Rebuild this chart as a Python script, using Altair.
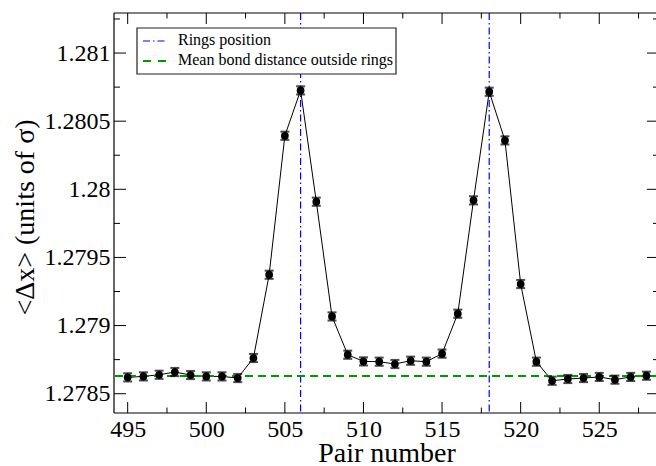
import altair as alt
import pandas as pd

# Mean bond length per pair along the chain
pairs = list(range(495, 529))
mean_dx = [1.27862, 1.278627, 1.278639, 1.278659, 1.278637, 1.278627, 1.278627, 1.278615,
           1.278762, 1.279373, 1.280393, 1.280726, 1.279909, 1.279067, 1.278786, 1.278737,
           1.278735, 1.278718, 1.278742, 1.278735, 1.278794, 1.279087, 1.279919, 1.280716,
           1.280359, 1.279305, 1.278735, 1.278595, 1.278608, 1.278615, 1.278623, 1.278603,
           1.278623, 1.278632]
err_dx = [0.00003, 0.00003, 0.00003, 0.00003, 0.00003, 0.00003, 0.00003, 0.00003,
          0.00003, 0.00003, 0.00003, 0.00003, 0.00003, 0.00003, 0.00003, 0.00003,
          0.00003, 0.00003, 0.00003, 0.00003, 0.00003, 0.00003, 0.00003, 0.00003,
          0.00003, 0.00003, 0.00003, 0.00003, 0.00003, 0.00003, 0.00003, 0.00003,
          0.00003, 0.00003]

ring_positions = [506, 518]
mean_outside = [1.27863]

x_major = [495, 500, 505, 510, 515, 520, 525]
x_minor = [497.5, 502.5, 507.5, 512.5, 517.5, 522.5, 527.5]
y_major = [1.2785, 1.279, 1.2795, 1.28, 1.2805, 1.281]
y_minor = [1.27875, 1.27925, 1.27975, 1.28025, 1.28075, 1.28125]

legend_labels = ["Rings position", "Mean bond distance outside rings"]

X_DOMAIN = [494.13, 528.61]
Y_DOMAIN = [1.2783584, 1.2812939]
W, H = 542, 400
FONT = "Liberation Serif"
BLUE = "#0000ff"
GREEN = "#009a00"

df = pd.DataFrame({
    "pair": pairs,
    "dx": mean_dx,
    "lo": [v - e for v, e in zip(mean_dx, err_dx)],
    "hi": [v + e for v, e in zip(mean_dx, err_dx)],
})

xs = alt.Scale(domain=X_DOMAIN, nice=False, zero=False)
ys = alt.Scale(domain=Y_DOMAIN, nice=False, zero=False)

axis_style = dict(
    grid=False, ticks=False, domain=False,
    labelFont=FONT, labelFontSize=24, labelColor="black", labelPadding=4,
    titleFont=FONT, titleFontSize=28, titleFontWeight="normal", titleColor="black",
    labelFlush=False, labelOverlap=False,
)
x_axis = alt.Axis(values=x_major, title="Pair number", format="d",
                  titleX=272.5, titleY=48, titleBaseline="alphabetic", titleAlign="center",
                  **axis_style)
y_axis = alt.Axis(values=y_major, title="<Δx> (units of σ)", format="~g",
                  titleX=-81, titleY=204, titleAngle=270, titleBaseline="alphabetic",
                  titleAlign="center", **axis_style)

base = alt.Chart(df)

line = base.mark_line(color="black", strokeWidth=1).encode(
    x=alt.X("pair:Q", scale=xs, axis=x_axis),
    y=alt.Y("dx:Q", scale=ys, axis=y_axis),
)
bars = base.mark_rule(color="black", strokeWidth=1.5).encode(
    x="pair:Q", y="lo:Q", y2="hi:Q")
cap_lo = base.mark_tick(color="black", orient="horizontal", size=9, thickness=2).encode(
    x="pair:Q", y="lo:Q")
cap_hi = base.mark_tick(color="black", orient="horizontal", size=9, thickness=2).encode(
    x="pair:Q", y="hi:Q")
points = base.mark_point(filled=True, shape="circle", size=60, color="black", opacity=1).encode(
    x="pair:Q", y="dx:Q")

rings = alt.Chart(pd.DataFrame({"pair": ring_positions})).mark_rule(
    color=BLUE, strokeWidth=1.2, strokeDash=[7, 3, 1.5, 3]).encode(x="pair:Q")
mean_line = alt.Chart(pd.DataFrame({"dx": mean_outside})).mark_rule(
    color=GREEN, strokeWidth=2, strokeDash=[8, 5]).encode(y="dx:Q")

# inward ticks on all four sides
def xticks(vals, length):
    d = alt.Chart(pd.DataFrame({"pair": vals}))
    bottom = d.mark_rule(color="black", strokeWidth=1).encode(
        x="pair:Q", y=alt.value(H), y2=alt.value(H - length))
    top = d.mark_rule(color="black", strokeWidth=1).encode(
        x="pair:Q", y=alt.value(0), y2=alt.value(length))
    return [bottom, top]

def yticks(vals, length):
    d = alt.Chart(pd.DataFrame({"dx": vals}))
    left = d.mark_rule(color="black", strokeWidth=1).encode(
        y="dx:Q", x=alt.value(0), x2=alt.value(length))
    right = d.mark_rule(color="black", strokeWidth=1).encode(
        y="dx:Q", x=alt.value(545 - length), x2=alt.value(W))
    return [left, right]

ticks = xticks(x_major, 11) + xticks(x_minor, 5.5) + yticks(y_major, 12) + yticks(y_minor, 6)

one = alt.Chart(pd.DataFrame({"k": [0]}))
frame = [
    one.mark_rule(color="black", strokeWidth=1.2).encode(x=alt.value(0), y=alt.value(0), y2=alt.value(H)),
    one.mark_rule(color="black", strokeWidth=1.2).encode(x=alt.value(0), x2=alt.value(W), y=alt.value(0)),
    one.mark_rule(color="black", strokeWidth=1.2).encode(x=alt.value(0), x2=alt.value(W), y=alt.value(H)),
]

# legend box
legend = [
    one.mark_rect(fill="white", stroke="#222", strokeWidth=1.2).encode(
        x=alt.value(23), x2=alt.value(282), y=alt.value(15), y2=alt.value(61)),
    one.mark_rule(color=BLUE, strokeWidth=1.2, strokeDash=[7, 3, 1.5, 3]).encode(
        x=alt.value(29), x2=alt.value(53), y=alt.value(28)),
    one.mark_rule(color=GREEN, strokeWidth=2, strokeDash=[8, 7]).encode(
        x=alt.value(29), x2=alt.value(53), y=alt.value(48)),
    alt.Chart(pd.DataFrame({"label": [legend_labels[0]]})).mark_text(
        font=FONT, fontSize=16, align="left", baseline="alphabetic", color="black").encode(
        x=alt.value(64), y=alt.value(32), text="label:N"),
    alt.Chart(pd.DataFrame({"label": [legend_labels[1]]})).mark_text(
        font=FONT, fontSize=16, align="left", baseline="alphabetic", color="black").encode(
        x=alt.value(64), y=alt.value(52), text="label:N"),
]

chart = alt.layer(
    line, rings, mean_line, bars, cap_lo, cap_hi, points, *ticks, *frame, *legend
).properties(
    width=W, height=H,
    autosize=alt.AutoSizeParams(type="none"),
    padding={"left": 114, "top": 13, "right": 0, "bottom": 53},
).configure(
    font=FONT,
    background="white",
).configure_view(
    stroke=None,
)

chart.save("out.html", embed_options={"renderer": "svg", "actions": False})
